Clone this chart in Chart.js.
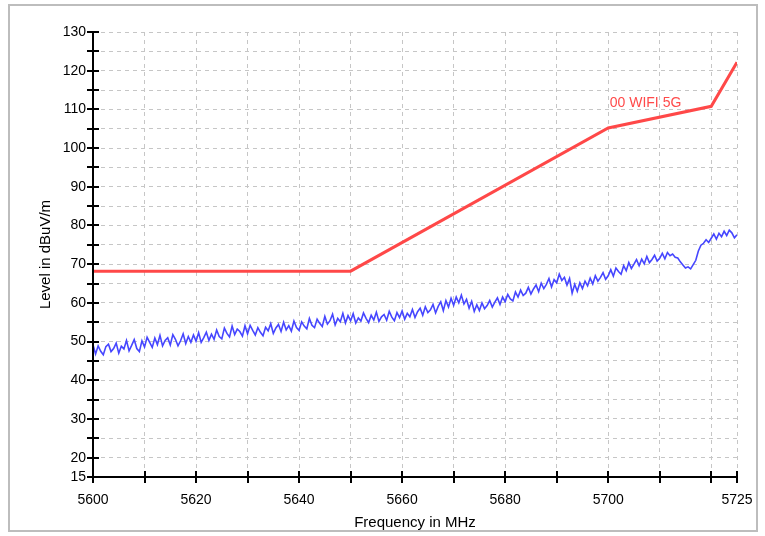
<!DOCTYPE html>
<html>
<head>
<meta charset="utf-8">
<script src="https://cdn.jsdelivr.net/npm/chart.js@4"></script>
<style>
  html, body { margin: 0; padding: 0; background: #fff; }
</style>
</head>
<body>
<canvas id="myChart" width="765" height="536"></canvas>
<script>
// measured trace: 5600 MHz .. 5725 MHz, one reading every 0.5 MHz
const startFreq = 5600;
const freqStep = 0.5;
const levels = [
    49.2, 46.8, 48.9, 47.5, 46.6, 48.7, 49.3, 47.4, 48.2, 49.6, 47.0, 48.8, 48.1, 50.3, 47.6, 49.0, 50.5, 48.2, 47.4, 50.2,
    48.6, 51.1, 49.8, 48.5, 50.9, 49.2, 51.6, 48.9, 50.3, 51.0, 49.1, 51.8, 50.6, 48.9, 50.2, 52.0, 49.5, 51.3, 49.8, 51.7,
    50.1, 52.3, 49.8, 51.0, 52.4, 50.3, 51.9, 50.6, 53.0, 51.3, 50.7, 53.5, 52.1, 51.2, 54.0, 51.8, 53.2, 52.6, 51.4, 54.1,
    52.0, 54.2, 52.9, 51.7, 53.6, 52.4, 51.5, 53.7, 52.8, 54.6, 52.1, 53.5, 54.4, 52.6, 55.0, 53.0, 54.1, 52.7, 55.3, 53.6,
    52.9, 55.1, 54.0, 53.3, 56.0, 54.2, 53.6, 55.8, 54.7, 53.9, 56.5, 54.5, 55.4, 57.1, 54.3, 56.0, 55.1, 57.3, 54.8, 56.7,
    55.4, 57.2, 54.8, 56.1, 55.3, 57.4, 56.0, 54.9, 56.8, 55.6, 57.6, 55.2, 56.4, 57.0, 55.5, 57.8, 56.3, 55.4, 57.5, 56.2,
    57.9, 55.8, 57.3, 56.4, 58.3, 56.2, 57.7, 58.6, 56.8, 59.0, 57.5, 58.2, 59.6, 57.4, 59.1, 60.3, 58.0, 60.6, 58.9, 61.2,
    59.4, 61.5, 60.0, 62.0, 59.7, 60.9, 58.6, 60.4, 57.8, 59.5, 58.0, 60.0, 58.5, 59.3, 60.6, 58.9, 60.2, 61.3, 59.6, 61.5,
    60.3, 62.2, 61.0, 60.5, 62.8, 61.5, 63.3, 61.9, 62.5, 64.0, 62.3, 63.6, 64.6, 62.9, 65.1, 63.7, 64.8, 66.3, 64.1, 66.0,
    65.2, 67.4, 65.8, 66.6, 64.6, 66.3, 62.5, 64.8, 63.0, 65.2, 63.7, 65.6, 64.4, 66.4, 64.9, 67.0, 65.6, 66.6, 67.8, 66.1,
    67.0, 68.6, 66.9, 69.0, 68.1, 67.4, 69.6, 68.3, 70.4, 68.9, 70.0, 71.2, 69.6, 71.3, 70.1, 72.0, 70.4, 71.2, 72.3, 70.8,
    71.5, 72.8, 71.4, 73.0, 72.2, 72.6, 71.8, 71.6, 70.6, 69.8, 69.0, 69.3, 68.8, 69.9, 71.0, 73.4, 74.9, 75.4, 76.3, 75.6,
    76.7, 77.8, 76.5, 78.0, 77.1, 78.5, 77.4, 78.8, 78.1, 76.8, 77.6
];

// limit line
const limitName = '00 WIFI 5G';
const limitFreqs = [5600, 5650, 5700, 5720, 5725];
const limitLevels = [68.2, 68.2, 105.2, 110.8, 122.2];

// axes
const xTicks = [5600, 5610, 5620, 5630, 5640, 5650, 5660, 5670, 5680, 5690, 5700, 5710, 5720, 5725];
const xLabels = [5600, 5620, 5640, 5660, 5680, 5700, 5725];
const yTicks = [15, 20, 25, 30, 35, 40, 45, 50, 55, 60, 65, 70, 75, 80, 85, 90, 95, 100, 105, 110, 115, 120, 125, 130];
const yLabels = [15, 20, 30, 40, 50, 60, 70, 80, 90, 100, 110, 120, 130];

const FONT = '"Liberation Sans", Arial, sans-serif';

const traceData = levels.map((v, i) => ({ x: startFreq + i * freqStep, y: v }));
const limitData = limitFreqs.map((f, i) => ({ x: f, y: limitLevels[i] }));

// axis lines with ticks crossing both sides, limit name, outer frame
const decorations = {
    id: 'decorations',
    beforeDraw(chart) {
        const ctx = chart.ctx;
        ctx.save();
        ctx.fillStyle = '#fff';
        ctx.fillRect(0, 0, chart.width, chart.height);
        ctx.restore();
    },
    afterDatasetsDraw(chart) {
        const { ctx, chartArea: a, scales: { x, y } } = chart;
        ctx.save();
        ctx.strokeStyle = '#000';
        ctx.lineWidth = 2;
        ctx.beginPath();
        ctx.moveTo(a.left, a.top);
        ctx.lineTo(a.left, a.bottom);
        ctx.lineTo(a.right, a.bottom);
        yTicks.forEach(v => {
            const py = Math.round(y.getPixelForValue(v));
            ctx.moveTo(a.left - 6, py);
            ctx.lineTo(a.left + 6, py);
        });
        xTicks.forEach(v => {
            const px = Math.round(x.getPixelForValue(v));
            ctx.moveTo(px, a.bottom - 6);
            ctx.lineTo(px, a.bottom + 6);
        });
        ctx.stroke();

        ctx.fillStyle = '#ff4a4a';
        ctx.font = '14px ' + FONT;
        ctx.textAlign = 'left';
        ctx.textBaseline = 'middle';
        ctx.fillText(limitName, x.getPixelForValue(5700.3), y.getPixelForValue(111.7));
        ctx.restore();
    },
    afterDraw(chart) {
        const ctx = chart.ctx;
        ctx.save();
        ctx.strokeStyle = '#bdbdbd';
        ctx.lineWidth = 2;
        ctx.strokeRect(9, 5, 748, 526);
        ctx.restore();
    }
};

const config = {
    type: 'line',
    data: {
        datasets: [{
            data: traceData,
            borderColor: '#4646ff',
            borderWidth: 1.6,
            pointRadius: 0,
            tension: 0
        }, {
            data: limitData,
            borderColor: '#ff4848',
            borderWidth: 3,
            pointRadius: 0,
            tension: 0
        }]
    },
    options: {
        responsive: false,
        animation: false,
        layout: {
            padding: { left: 9, right: 28, top: 32, bottom: 4 }
        },
        scales: {
            x: {
                type: 'linear',
                min: 5600,
                max: 5725,
                afterBuildTicks: s => { s.ticks = xTicks.map(v => ({ value: v })); },
                afterFit: s => { s.height = 55; s.paddingLeft = 0; s.paddingRight = 0; },
                grid: { color: '#c6c6c6', lineWidth: 1, drawTicks: false },
                border: { display: false, dash: [4, 4] },
                ticks: {
                    autoSkip: false,
                    maxRotation: 0,
                    padding: 15,
                    color: '#000',
                    font: { family: FONT, size: 14 },
                    callback: v => xLabels.includes(v) ? String(v) : ''
                },
                title: {
                    display: true,
                    text: 'Frequency in MHz',
                    color: '#000',
                    font: { family: FONT, size: 15 },
                    padding: { top: 0, bottom: 0 }
                }
            },
            y: {
                min: 15,
                max: 130,
                afterBuildTicks: s => { s.ticks = yTicks.map(v => ({ value: v })); },
                afterFit: s => { s.width = 84; s.paddingTop = 0; s.paddingBottom = 0; },
                grid: { color: '#c6c6c6', lineWidth: 1, drawTicks: false },
                border: { display: false, dash: [4, 4] },
                ticks: {
                    autoSkip: false,
                    padding: 7,
                    color: '#000',
                    font: { family: FONT, size: 14 },
                    callback: v => yLabels.includes(v) ? String(v) : ''
                },
                title: {
                    display: true,
                    text: 'Level in dBuV/m',
                    color: '#000',
                    font: { family: FONT, size: 15 },
                    padding: { top: 28, bottom: 0 }
                }
            }
        },
        plugins: {
            legend: { display: false },
            tooltip: { enabled: false }
        }
    },
    plugins: [decorations]
};

const myChart = new Chart(document.getElementById('myChart'), config);
</script>
</body>
</html>
